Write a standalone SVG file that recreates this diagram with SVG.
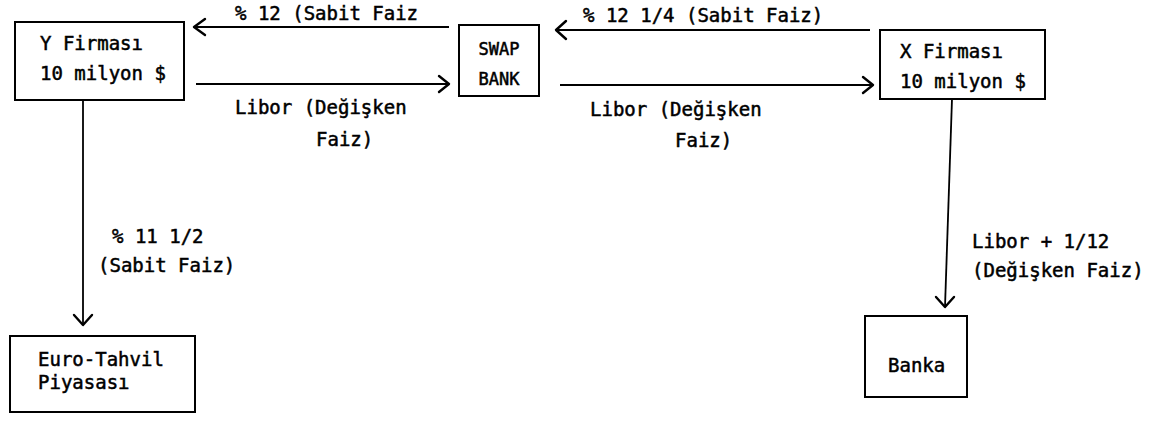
<svg xmlns="http://www.w3.org/2000/svg" width="1162" height="424" viewBox="0 0 1162 424">
<style>
text{font-family:"DejaVu Sans Mono","Liberation Mono",monospace;font-size:19px;fill:#000;stroke:#000;stroke-width:0.5}
.small{font-size:17px}
.box{fill:none;stroke:#000;stroke-width:2}
.ln{fill:none;stroke:#000;stroke-width:1.8}
.hd{fill:none;stroke:#000;stroke-width:2.4;stroke-linecap:round;stroke-linejoin:round}
</style>
<rect width="1162" height="424" fill="#fff"/>
<g id="y-firmasi">
<rect class="box" x="15" y="22" width="169" height="78"/>
<text x="40" y="50">Y Firması</text>
<text x="40" y="80">10 milyon $</text>
</g>
<g id="swap-bank">
<rect class="box" x="459" y="25" width="80" height="71"/>
<text class="small" x="499" y="55" text-anchor="middle">SWAP</text>
<text class="small" x="499" y="85" text-anchor="middle">BANK</text>
</g>
<g id="x-firmasi">
<rect class="box" x="880" y="30" width="165" height="69"/>
<text x="900" y="58">X Firması</text>
<text x="900" y="88">10 milyon $</text>
</g>
<g id="euro-tahvil">
<rect class="box" x="10" y="336" width="185" height="76"/>
<text x="38" y="366">Euro-Tahvil</text>
<text x="38" y="389">Piyasası</text>
</g>
<g id="banka">
<rect class="box" x="865" y="316" width="102" height="81"/>
<text x="888" y="372">Banka</text>
</g>
<g id="connectors">
<line class="ln" x1="449" y1="27" x2="194" y2="27"/>
<polyline class="hd" points="205,19 194,27 205,35"/>
<line class="ln" x1="196" y1="84" x2="448" y2="84"/>
<polyline class="hd" points="439,76 449,84 439,92"/>
<line class="ln" x1="870" y1="30" x2="556" y2="30"/>
<polyline class="hd" points="566,21 556,30 566,39"/>
<line class="ln" x1="560" y1="85" x2="872" y2="85"/>
<polyline class="hd" points="863,77 873,85 863,93"/>
<line class="ln" x1="83" y1="100" x2="83" y2="325"/>
<polyline class="hd" points="74,315 83,325 92,315"/>
<line class="ln" x1="952" y1="99" x2="945" y2="307"/>
<polyline class="hd" points="936,297 945,307 954,297"/>
</g>
<g id="labels">
<text x="235" y="20">% 12 (Sabit Faiz</text>
<text x="235" y="114">Libor (Değişken</text>
<text x="316" y="146">Faiz)</text>
<text x="583" y="22">% 12 1/4 (Sabit Faiz)</text>
<text x="590" y="116">Libor (Değişken</text>
<text x="675" y="147">Faiz)</text>
<text x="112" y="243">% 11 1/2</text>
<text x="98" y="272">(Sabit Faiz)</text>
<text x="972" y="248">Libor + 1/12</text>
<text x="972" y="277">(Değişken Faiz)</text>
</g>
</svg>
